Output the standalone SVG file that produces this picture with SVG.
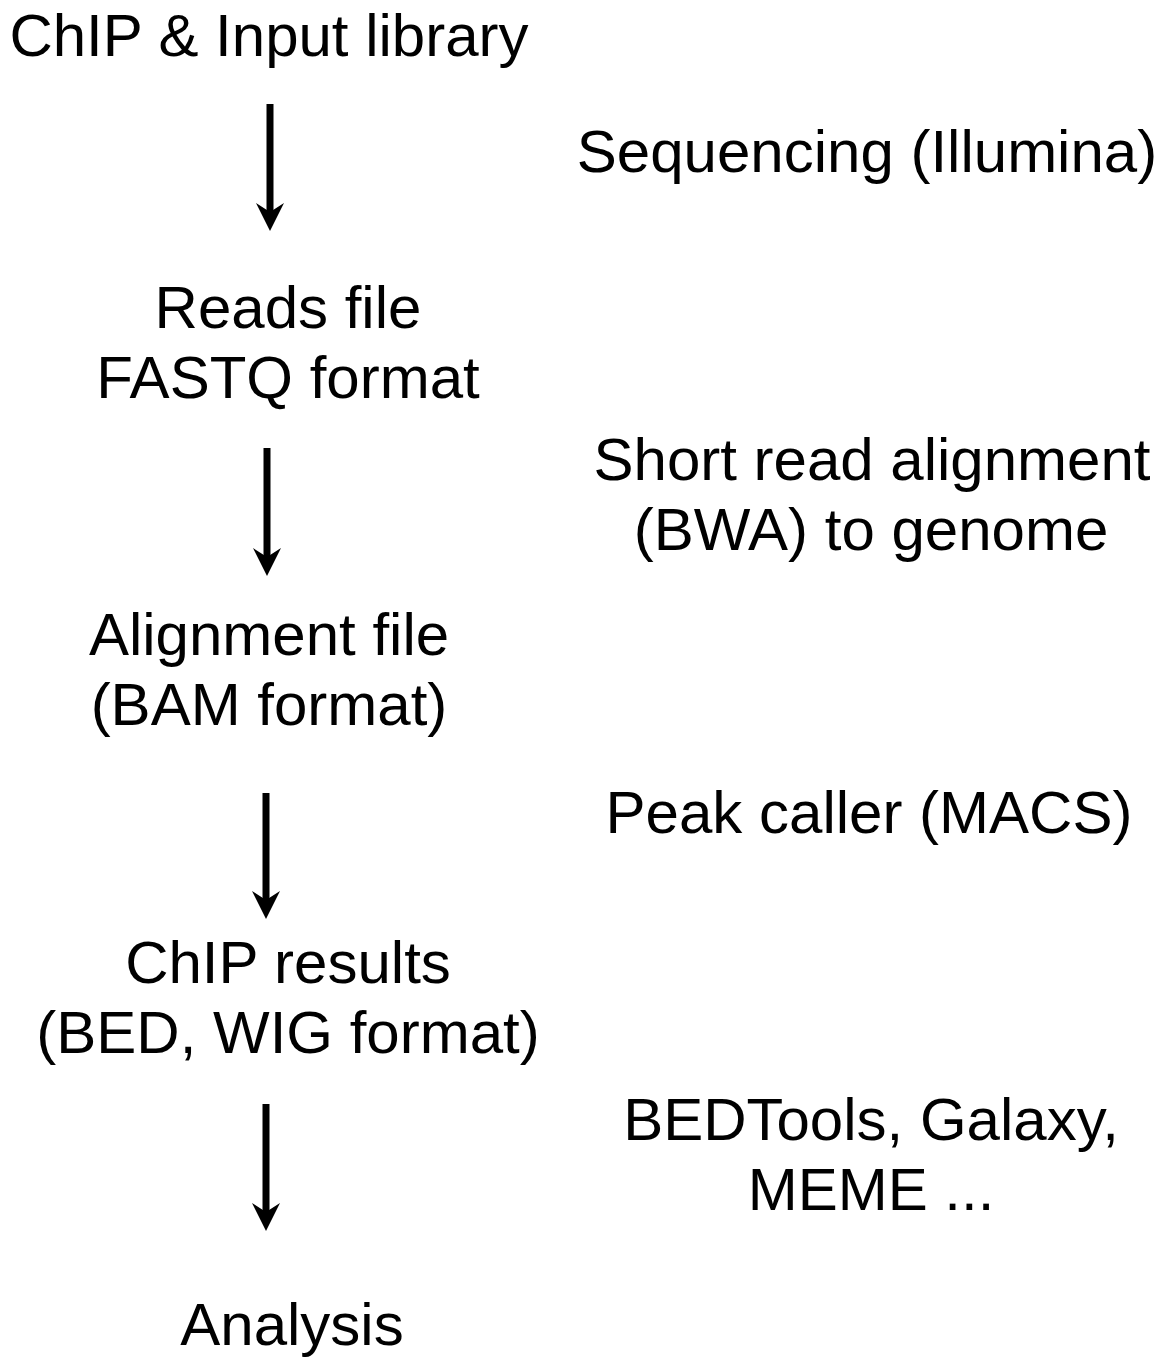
<svg xmlns="http://www.w3.org/2000/svg" xmlns:xlink="http://www.w3.org/1999/xlink" width="1168" height="1357" viewBox="0 0 1168 1357">
<style>
text{font-family:"Liberation Sans",Arial,sans-serif;font-size:60px;fill:#000;text-anchor:middle}
.c{stroke:#000;stroke-width:7;fill:none}
</style>
<defs>
<path id="head" d="M0,0 L-14,-28 L0,-19 L14,-28 Z" fill="#000"/>
</defs>
<rect width="1168" height="1357" fill="#fff"/>
<g id="connectors">
<path class="c" d="M270,104 V215"/><use xlink:href="#head" href="#head" x="270" y="231"/>
<path class="c" d="M267,448 V560"/><use xlink:href="#head" href="#head" x="267" y="576"/>
<path class="c" d="M266,793 V903"/><use xlink:href="#head" href="#head" x="266" y="919"/>
<path class="c" d="M266,1104 V1215"/><use xlink:href="#head" href="#head" x="266" y="1231"/>
</g>
<g id="n1"><text x="269" y="56">ChIP &amp; Input library</text></g>
<g id="n2"><text x="288" y="328">Reads file</text><text x="288" y="398">FASTQ format</text></g>
<g id="n3"><text x="269" y="655">Alignment file</text><text x="269" y="725">(BAM format)</text></g>
<g id="n4"><text x="288" y="983">ChIP results</text><text x="288" y="1053">(BED, WIG format)</text></g>
<g id="n5"><text x="292" y="1345">Analysis</text></g>
<g id="l1"><text x="867" y="172">Sequencing (Illumina)</text></g>
<g id="l2"><text x="872" y="480">Short read alignment</text><text x="871" y="550">(BWA) to genome</text></g>
<g id="l3"><text x="869" y="833">Peak caller (MACS)</text></g>
<g id="l4"><text x="871" y="1140">BEDTools, Galaxy,</text><text x="871" y="1210">MEME ...</text></g>
</svg>
